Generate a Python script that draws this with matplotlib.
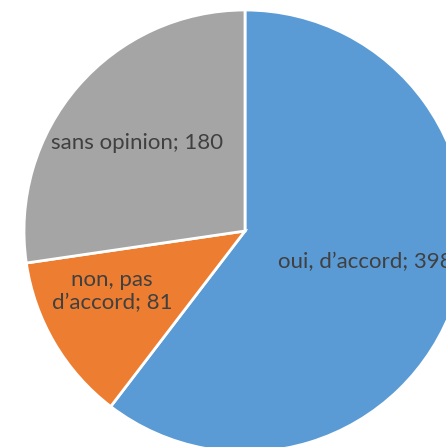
import matplotlib.pyplot as plt

labels = ["oui, d\u2019accord", "non, pas\nd\u2019accord", "sans opinion"]
values = [398, 81, 180]
colors = ["#5B9BD5", "#ED7D31", "#A5A5A5"]
# label anchors (data coords, pie radius = 1)
label_pos = [(0.149, -0.140), (-0.602, -0.275), (-0.489, 0.398)]
label_ha = ["left", "center", "center"]

fig = plt.figure(figsize=(4.46, 4.47), dpi=100)
ax = fig.add_axes([24 / 446, (447 - 452) / 447, 442 / 446, 442 / 447])

ax.pie(values, colors=colors, startangle=90, counterclock=False, radius=1,
       wedgeprops=dict(edgecolor="white", linewidth=2.0))
ax.set_xlim(-1, 1)
ax.set_ylim(-1, 1)
ax.set_aspect("auto")
ax.axis("off")

for lab, val, (x, y), ha in zip(labels, values, label_pos, label_ha):
    ax.text(x, y, f"{lab}; {val}", ha=ha, va="center", fontsize=16,
            color="#404040", family="Lato", linespacing=1.2,
            multialignment="center")

fig.savefig("out.png", dpi=100)
